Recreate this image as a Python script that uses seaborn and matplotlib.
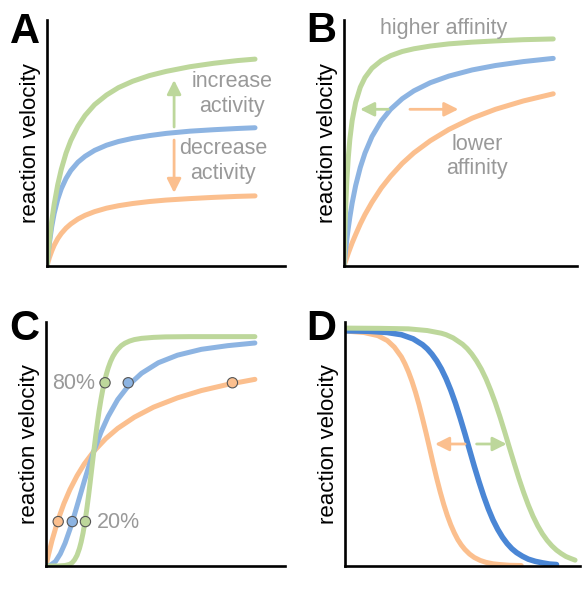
import numpy as np
import pandas as pd
import seaborn as sns
import matplotlib.pyplot as plt

# Datos (ejes normalizados 0-1)

# Panel A: cambio de actividad (Vmax)
a_x = [0, 0.005, 0.01, 0.02, 0.03, 0.045, 0.06, 0.08, 0.1, 0.13, 0.16, 0.2,
       0.25, 0.3, 0.36, 0.43, 0.5, 0.6, 0.7, 0.8, 0.874]
a_green = [0, 0.054, 0.102, 0.184, 0.250, 0.330, 0.393, 0.459, 0.510, 0.568, 0.612,
           0.656, 0.695, 0.725, 0.751, 0.774, 0.791, 0.810, 0.824, 0.835, 0.841]
a_blue = [0, 0.051, 0.093, 0.161, 0.213, 0.271, 0.314, 0.356, 0.388, 0.422, 0.446,
          0.470, 0.491, 0.506, 0.519, 0.530, 0.539, 0.548, 0.554, 0.559, 0.562]
a_orange = [0, 0.018, 0.034, 0.061, 0.084, 0.111, 0.132, 0.154, 0.171, 0.191, 0.206,
            0.221, 0.235, 0.245, 0.254, 0.262, 0.268, 0.274, 0.279, 0.283, 0.285]

# Panel B: cambio de afinidad (Km)
b_x = [0, 0.003, 0.007, 0.012, 0.018, 0.025, 0.035, 0.05, 0.07, 0.09, 0.12, 0.16,
       0.2, 0.25, 0.3, 0.37, 0.45, 0.55, 0.65, 0.77, 0.898]
b_green = [0, 0.118, 0.236, 0.344, 0.436, 0.514, 0.591, 0.665, 0.727, 0.766, 0.804,
           0.835, 0.855, 0.872, 0.883, 0.894, 0.903, 0.910, 0.915, 0.920, 0.923]
b_blue = [0, 0.029, 0.065, 0.107, 0.152, 0.198, 0.256, 0.327, 0.401, 0.459, 0.526,
          0.590, 0.637, 0.680, 0.712, 0.745, 0.772, 0.797, 0.815, 0.831, 0.844]
b_orange = [0, 0.009, 0.020, 0.034, 0.051, 0.069, 0.094, 0.128, 0.171, 0.209, 0.259,
            0.317, 0.365, 0.417, 0.460, 0.509, 0.555, 0.601, 0.637, 0.671, 0.700]

# Panel C: cooperatividad
c_x_orange = [0, 0.01, 0.025, 0.05, 0.075, 0.1, 0.13, 0.16, 0.2, 0.25, 0.3, 0.37,
              0.45, 0.55, 0.65, 0.76, 0.874]
c_orange = [0, 0.045, 0.104, 0.188, 0.256, 0.313, 0.370, 0.418, 0.470, 0.522, 0.564,
            0.610, 0.651, 0.689, 0.719, 0.744, 0.765]
c_x_blue = [0, 0.02, 0.04, 0.06, 0.08, 0.1, 0.12, 0.14, 0.16, 0.18, 0.2, 0.23, 0.26,
            0.3, 0.35, 0.4, 0.47, 0.55, 0.65, 0.76, 0.874]
c_blue = [0, 0.004, 0.019, 0.050, 0.094, 0.150, 0.213, 0.280, 0.347, 0.411, 0.470,
          0.548, 0.613, 0.682, 0.745, 0.790, 0.833, 0.864, 0.888, 0.903, 0.914]
c_x_green = [0, 0.05, 0.08, 0.1, 0.11, 0.12, 0.13, 0.14, 0.147, 0.155, 0.163, 0.17,
             0.178, 0.185, 0.193, 0.2, 0.208, 0.215, 0.222, 0.23, 0.237, 0.245,
             0.252, 0.26, 0.27, 0.28, 0.29, 0.3, 0.315, 0.33, 0.35, 0.37, 0.4, 0.45,
             0.5, 0.6, 0.874]
c_green = [0, 0.000, 0.002, 0.007, 0.014, 0.026, 0.044, 0.072, 0.098, 0.135, 0.181,
           0.228, 0.288, 0.345, 0.412, 0.470, 0.534, 0.586, 0.635, 0.683, 0.720,
           0.757, 0.784, 0.811, 0.838, 0.859, 0.875, 0.888, 0.903, 0.913, 0.922,
           0.928, 0.933, 0.937, 0.939, 0.940, 0.940]
c_pts80_x = [0.247, 0.344, 0.780]
c_pts20_x = [0.051, 0.110, 0.165]
c_pts80_y = 0.751
c_pts20_y = 0.182

# Panel D: inhibicion
d_x_orange = [0, 0.08, 0.14, 0.18, 0.21, 0.24, 0.255, 0.27, 0.285, 0.30, 0.315, 0.33,
              0.345, 0.36, 0.375, 0.39, 0.405, 0.42, 0.435, 0.45, 0.465, 0.48, 0.495,
              0.51, 0.53, 0.55, 0.575, 0.6, 0.63, 0.66, 0.7, 0.75]
d_orange = [0.963, 0.957, 0.944, 0.924, 0.897, 0.857, 0.829, 0.796, 0.757, 0.712,
            0.661, 0.604, 0.545, 0.483, 0.420, 0.360, 0.304, 0.253, 0.208, 0.169,
            0.136, 0.108, 0.086, 0.068, 0.049, 0.035, 0.023, 0.015, 0.009, 0.006,
            0.003, 0.002]
d_x_blue = [0, 0.1, 0.18, 0.24, 0.29, 0.33, 0.35, 0.37, 0.39, 0.41, 0.43, 0.45, 0.47,
            0.49, 0.51, 0.53, 0.55, 0.57, 0.59, 0.61, 0.63, 0.65, 0.67, 0.69, 0.71,
            0.73, 0.755, 0.78, 0.81, 0.84, 0.87, 0.9]
d_blue = [0.964, 0.962, 0.957, 0.948, 0.931, 0.907, 0.890, 0.868, 0.841, 0.808, 0.768,
          0.721, 0.667, 0.607, 0.543, 0.476, 0.409, 0.346, 0.287, 0.234, 0.188, 0.150,
          0.118, 0.092, 0.071, 0.055, 0.040, 0.028, 0.019, 0.013, 0.008, 0.006]
d_x_green = [0, 0.15, 0.27, 0.35, 0.41, 0.43, 0.46, 0.5, 0.52, 0.54, 0.56, 0.58, 0.6,
             0.62, 0.64, 0.66, 0.68, 0.70, 0.72, 0.74, 0.76, 0.78, 0.8, 0.82, 0.84,
             0.86, 0.88, 0.9, 0.92, 0.94, 0.96, 0.979]
d_green = [0.975, 0.974, 0.972, 0.965, 0.954, 0.948, 0.935, 0.909, 0.891, 0.868, 0.840,
           0.807, 0.767, 0.720, 0.668, 0.610, 0.548, 0.484, 0.421, 0.359, 0.302, 0.250,
           0.204, 0.165, 0.132, 0.105, 0.083, 0.065, 0.051, 0.039, 0.031, 0.024]

verde = '#bdd79b'
azul = '#8db4e2'
naranja = '#fbbf8e'
azul_osc = '#4a86d5'
gris = '#999999'

sns.set_theme(style='white')
plt.rcParams['font.family'] = ['Liberation Sans', 'DejaVu Sans']

W, H = 583, 594
fig = plt.figure(figsize=(W / 100, H / 100), dpi=100)


def nuevo_eje(left, right, top, bottom):
    ax = fig.add_axes([left / W, 1 - bottom / H, (right - left) / W, (bottom - top) / H])
    ax.set_xlim(0, 1)
    ax.set_ylim(0, 1)
    ax.set_xticks([])
    ax.set_yticks([])
    for s in ['top', 'right']:
        ax.spines[s].set_visible(False)
    for s in ['left', 'bottom']:
        ax.spines[s].set_color('black')
        ax.spines[s].set_linewidth(1.9)
        ax.spines[s].set_capstyle('projecting')
    ax.set_ylabel('reaction velocity', fontsize=16, color='black', labelpad=4)
    return ax


def curva(ax, x, y, color, lw=3.6):
    sns.lineplot(x=x, y=y, color=color, lw=lw, ax=ax, estimator=None, sort=False,
                 solid_capstyle='round', solid_joinstyle='round')


def flecha(ax, x0, y0, x1, y1, color):
    ax.annotate('', xy=(x1, y1), xytext=(x0, y0),
                arrowprops=dict(arrowstyle='-|>,head_length=0.7,head_width=0.35',
                                color=color, lw=2, shrinkA=0, shrinkB=0))


# A
ax = nuevo_eje(47, 285, 20, 266)
curva(ax, a_x, a_orange, naranja)
curva(ax, a_x, a_blue, azul)
curva(ax, a_x, a_green, verde)
flecha(ax, 0.534, 0.565, 0.534, 0.756, verde)
flecha(ax, 0.534, 0.512, 0.534, 0.297, naranja)
ax.text(0.777, 0.699, 'increase\nactivity', ha='center', va='center', color=gris, fontsize=15.5)
ax.text(0.739, 0.427, 'decrease\nactivity', ha='center', va='center', color=gris, fontsize=15.5)
ax.set_xlabel('[substrate]', fontsize=16, color='black', labelpad=3)

# B
ax = nuevo_eje(344, 577, 20, 266)
curva(ax, b_x, b_orange, naranja)
curva(ax, b_x, b_blue, azul)
curva(ax, b_x, b_green, verde)
flecha(ax, 0.190, 0.637, 0.069, 0.637, verde)
flecha(ax, 0.283, 0.637, 0.491, 0.637, naranja)
ax.text(0.426, 0.966, 'higher affinity', ha='center', va='center', color=gris, fontsize=15.5)
ax.text(0.570, 0.444, 'lower\naffinity', ha='center', va='center', color=gris, fontsize=15.5)
ax.set_xlabel('[substrate]', fontsize=16, color='black', labelpad=3)

# C
ax = nuevo_eje(46, 285, 322, 566)
curva(ax, c_x_orange, c_orange, naranja)
curva(ax, c_x_blue, c_blue, azul)
curva(ax, c_x_green, c_green, verde)
paleta = {'g': verde, 'b': azul, 'o': naranja}
sns.scatterplot(x=c_pts80_x, y=[c_pts80_y] * 3, hue=['g', 'b', 'o'], palette=paleta,
                s=55, edgecolor='#555555', linewidth=0.8, legend=False, ax=ax, zorder=5)
sns.scatterplot(x=c_pts20_x, y=[c_pts20_y] * 3, hue=['o', 'b', 'g'], palette=paleta,
                s=55, edgecolor='#555555', linewidth=0.8, legend=False, ax=ax, zorder=5)
ax.text(0.205, 0.746, '80%', ha='right', va='center', color=gris, fontsize=15.5)
ax.text(0.212, 0.178, '20%', ha='left', va='center', color=gris, fontsize=15.5)
ax.set_xlabel('[substrate]', fontsize=16, color='black', labelpad=3)

# D
ax = nuevo_eje(345, 580, 322, 566)
curva(ax, d_x_orange, d_orange, naranja)
curva(ax, d_x_blue, d_blue, azul_osc, lw=4)
curva(ax, d_x_green, d_green, verde)
flecha(ax, 0.511, 0.500, 0.383, 0.500, naranja)
flecha(ax, 0.560, 0.500, 0.688, 0.500, verde)
ax.set_xlabel('[inhibitor]', fontsize=16, color='black', labelpad=3)

# letras de panel
for letra, px, py in [('A', 10, 43), ('B', 306, 42), ('C', 9, 340), ('D', 306, 340)]:
    fig.text(px / W, 1 - py / H, letra, fontsize=30, fontweight='bold',
             ha='left', va='baseline', color='black')

fig.savefig('out.png', dpi=100)
